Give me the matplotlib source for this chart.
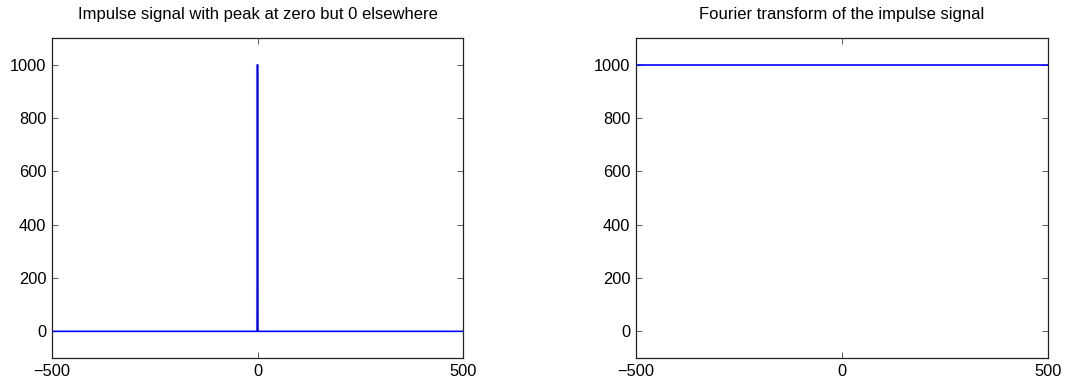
import matplotlib
matplotlib.use("Agg")
import matplotlib.pyplot as plt

# impulse signal: zero everywhere except the sample at n = 0
impulse_n = [-500, -1, 0, 1, 500]
impulse_val = [0, 0, 1000, 0, 0]

# its Fourier transform is flat
fourier_k = [-500, 500]
fourier_val = [1000, 1000]

x_ticks = [-500, 0, 500]
y_ticks = [0, 200, 400, 600, 800, 1000]

titles = ['Impulse signal with peak at zero but 0 elsewhere',
          'Fourier transform of the impulse signal']

plt.rcParams['font.family'] = ['Liberation Sans', 'DejaVu Sans']

fig = plt.figure(figsize=(10.69, 3.85), dpi=100)
ax1 = fig.add_axes([52 / 1069, 27 / 385, 411 / 1069, 320 / 385])
ax2 = fig.add_axes([636 / 1069, 27 / 385, 412 / 1069, 320 / 385])

ax1.plot(impulse_n, impulse_val, color='#0000ff', lw=1.2)
ax2.plot(fourier_k, fourier_val, color='#0000ff', lw=1.2)

for ax, title in zip([ax1, ax2], titles):
    ax.set_xlim(-500, 500)
    ax.set_ylim(-100, 1100)
    ax.set_xticks(x_ticks)
    ax.set_yticks(y_ticks)
    ax.set_xticklabels(['\u2212500', '0', '500'])
    ax.tick_params(direction='in', length=4, width=0.6, top=True, right=True,
                   labelsize=11.8, pad=4, colors='#444444', labelcolor='black')
    for sp in ax.spines.values():
        sp.set_linewidth(0.9)
        sp.set_color('#222222')
    ax.set_title(title, fontsize=12, pad=14)

fig.savefig('out.png', dpi=100)
